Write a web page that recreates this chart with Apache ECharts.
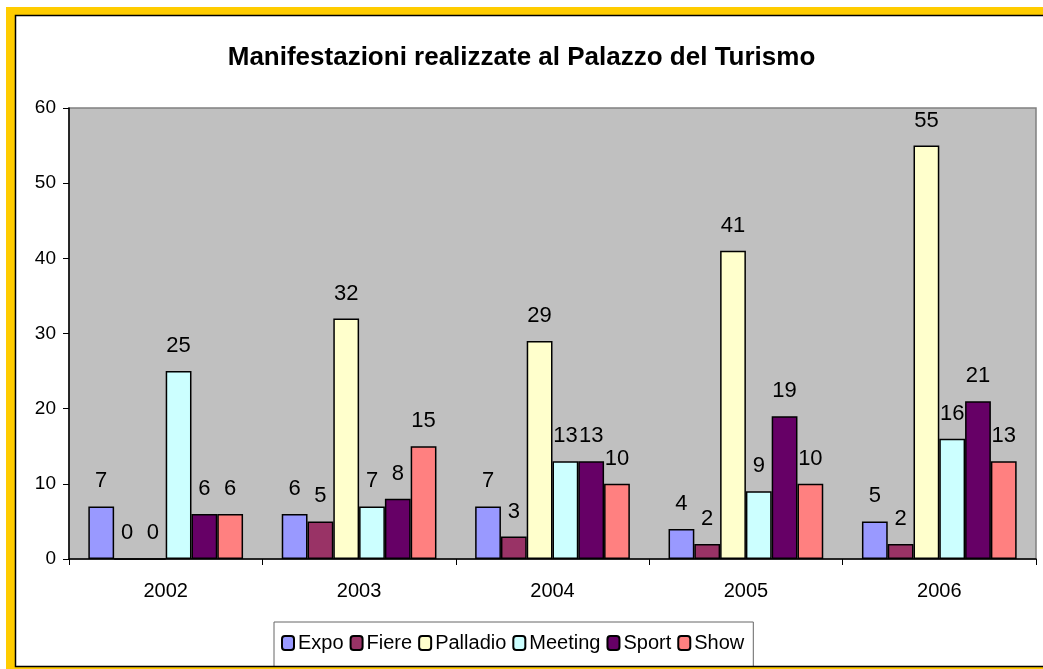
<!DOCTYPE html>
<html>
<head>
<meta charset="utf-8">
<script src="https://cdn.jsdelivr.net/npm/echarts@6/dist/echarts.min.js"></script>
<style>
  html, body { margin: 0; padding: 0; background: #fff; }
  #main { width: 1043px; height: 669px; }
</style>
</head>
<body>
<div id="main"></div>
<script>
// dati
var anni = ['2002', '2003', '2004', '2005', '2006'];
var expo = [7, 6, 7, 4, 5];
var fiere = [0, 5, 3, 2, 2];
var palladio = [0, 32, 29, 41, 55];
var meeting = [25, 7, 13, 9, 16];
var sport = [6, 8, 13, 19, 21];
var show = [6, 15, 10, 10, 13];
var yTicks = [0, 10, 20, 30, 40, 50, 60];

var nomi = ['Expo', 'Fiere', 'Palladio', 'Meeting', 'Sport', 'Show'];
var colori = ['#9999FF', '#993366', '#FFFFCC', '#CCFFFF', '#660066', '#FF8080'];
var valori = [expo, fiere, palladio, meeting, sport, show];

var chart = echarts.init(document.getElementById('main'));

function serie(i) {
    return {
        name: nomi[i],
        type: 'bar',
        data: valori[i],
        barGap: 0,
        barCategoryGap: '20%',
        itemStyle: { color: colori[i], borderColor: '#000', borderWidth: 1.5 },
        label: {
            show: true,
            position: 'top',
            distance: 14,
            color: '#000',
            fontFamily: 'Liberation Sans, Arial, sans-serif',
            fontSize: 22
        },
        emphasis: { disabled: true }
    };
}

var series = [];
for (var i = 0; i < nomi.length; i++) {
    series.push(serie(i));
}

var option = {
    animation: false,
    backgroundColor: '#fff',
    textStyle: { fontFamily: 'Liberation Sans, Arial, sans-serif' },
    title: {
        text: 'Manifestazioni realizzate al Palazzo del Turismo',
        left: 'center',
        top: 40,
        textStyle: { fontSize: 26, fontWeight: 'bold', color: '#000',
                     fontFamily: 'Liberation Sans, Arial, sans-serif' }
    },
    graphic: [
        { type: 'rect', silent: true, z: 100,
          shape: { x: 10.5, y: 11.5, width: 1100, height: 660 },
          style: { fill: 'none', stroke: '#FFCC00', lineWidth: 9 } },
        { type: 'rect', silent: true, z: 100,
          shape: { x: 15.5, y: 15.5, width: 1100, height: 651 },
          style: { fill: 'none', stroke: '#000', lineWidth: 1.5 } }
    ],
    legend: {
        data: nomi,
        left: 274,
        top: 622,
        width: 480,
        padding: [11, 9, 14, 7],
        itemGap: 6,
        itemWidth: 12,
        itemHeight: 14,
        backgroundColor: '#fff',
        borderColor: '#666',
        borderWidth: 1,
        textStyle: {
            fontFamily: 'Liberation Sans, Arial, sans-serif',
            fontSize: 20,
            color: '#000',
            padding: [0, 0, 0, -1]
        }
    },
    grid: {
        left: 69,
        right: 7,
        top: 108,
        bottom: 110,
        show: true,
        backgroundColor: '#C0C0C0',
        borderColor: '#808080',
        borderWidth: 1.5
    },
    xAxis: {
        type: 'category',
        data: anni,
        axisLine: { lineStyle: { color: '#000', width: 1.5 } },
        axisTick: { show: true, length: 6, alignWithLabel: false, lineStyle: { color: '#000' } },
        axisLabel: { color: '#000', fontSize: 20, margin: 22 }
    },
    yAxis: {
        type: 'value',
        min: yTicks[0],
        max: yTicks[yTicks.length - 1],
        interval: 10,
        axisLine: { show: true, lineStyle: { color: '#000', width: 1.5 } },
        axisTick: { show: true, length: 6, lineStyle: { color: '#000' } },
        splitLine: { show: false },
        axisLabel: { color: '#000', fontSize: 19, margin: 13 }
    },
    series: series
};

chart.setOption(option);
</script>
</body>
</html>
